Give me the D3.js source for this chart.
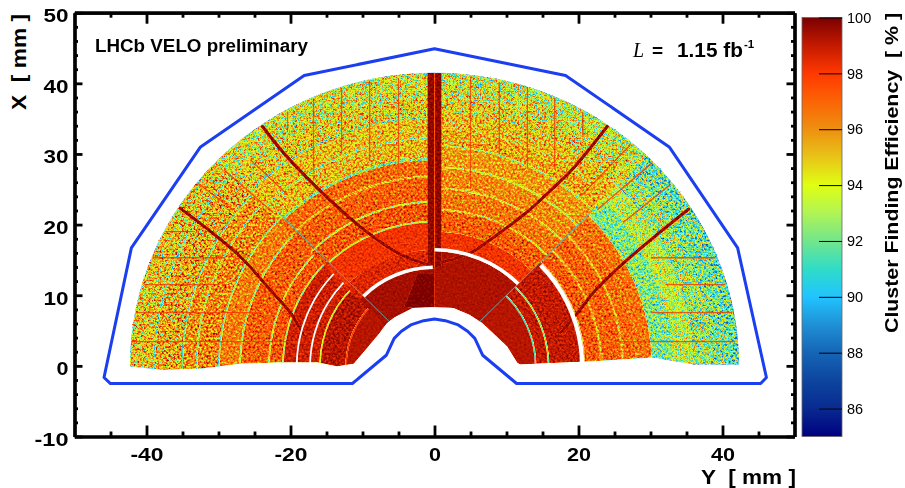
<!DOCTYPE html>
<html><head><meta charset="utf-8">
<script src="https://cdn.jsdelivr.net/npm/d3@7/dist/d3.min.js"></script>
<style>
html,body{margin:0;padding:0;background:#fff;overflow:hidden}
svg{display:block}
text{font-family:"Liberation Sans",Arial,sans-serif;fill:#000;white-space:pre}
</style></head><body>
<svg id="c" width="905" height="488"></svg>
<script>
// ---------- colour scale (one colour per integer %)
const colorValues=[85,86,87,88,89,90,91,92,93,94,95,96,97,98,99,100];
const colorHex=["#000080","#082a90","#0d459f","#1565b5","#1f90d5","#20c4ff","#30dcc8","#72e68c","#b0f455","#e0ff12","#e8c418","#ee9010","#fb6405","#ff3800","#c41a00","#7a0000"];
const colorTicks=[86,88,90,92,94,96,98,100];

// ---------- ring tables, one per sensor sector: radius edges (mm) and mean efficiency (%) estimated by eye
const sectorNames=["A","B","C","D"];
const sectorStartDeg=[-100,-45,0,45];
const sectorEndDeg=[-45,0,45,100];
const sectorCentreX=[0,-1,0,0];
const ringEdgesA=[6,12.15,12.35,15.75,15.95,20.9,21.1,22.85,23.05,26.85,27.05,29.8,30,32.9,33.1,34.9,35.1,38.8,39,44];
const ringValuesA=[99.2,97.8,99.2,93.5,98.8,93.6,97.4,93.6,97.2,92.6,96.4,92.6,96.3,92.6,96.1,92,95.5,92,94.9];
const ringEdgesB=[6,14.7,17.4,21.3,21.5,24.1,24.3,27.7,27.9,30.1,30.4,33.1,33.3,36.1,36.3,39,40,44];
const ringValuesB=[99.4,98.6,98.2,93.6,97.4,93.6,97.1,95.3,96.9,92.2,95.3,92.6,95.1,92.6,94.7,94.3,94];
const ringEdgesC=[6,16.2,19,22,22.2,25,25.2,28,28.2,31,31.2,33.5,36,38,40,44];
const ringValuesC=[99.3,98.2,97.2,94.6,96.6,94.6,96.2,93.6,95.8,93.6,95.6,95.2,94.6,94.1,93.6];
const ringEdgesD=[6,13.9,14.1,15.7,15.9,20.8,23,23.2,26,26.2,28,30.2,33,36,38.5,41,44];
const ringValuesD=[99.2,91.5,99,92,99,97.3,95,97.1,95,96.9,96.7,92.2,93.4,92.8,92,91.6];

// grain strength by radius (visual texture only, not a data value)
const grainEdges=[0,14,20,30,36,60];
const grainGains=[0.08,0.22,0.55,0.85,1.2];

// white dead strips: radius from, radius to, angle from, angle to (deg)
const gapR0=[16.2,20.2,13.7,19.0,17.15];
const gapR1=[16.7,20.8,14.2,19.25,17.4];
const gapA0=[0,46,-45,-100,-100];
const gapA1=[45,100,-1,-47,-47];

// dark stereo lines [Y,X] mm
const darkCurveLeftLow=[[-35.3,22.3],[-30.7,18.7],[-26.5,15],[-23.2,11.2],[-20,7.5],[-18.2,4.4]];
const darkCurveLeftHigh=[[-23.9,33.9],[-21,30.2],[-16.3,25.2],[-10.3,19.7],[-5.1,16],[-0.6,14.2]];
const darkCurveRightHigh=[[24,33.9],[19.3,28],[16.5,25.2],[12.4,21.4],[7.8,17.9],[5,16],[0.8,14.6]];
const darkCurveRightLow=[[35.3,22.2],[31.4,19],[26.3,14.6],[22.1,10.4],[19.9,7.5],[17.5,4.7]];
// thin routing lines [Y0,X0,Y1,X1] mm
const routingLines=[
[-42.2,3.44,-18.6,3.44],[-41.5,7.54,-24.2,7.54],[-40.4,11.5,-29.7,11.5],[-39.2,15.3,-29,15.3],[-37.4,19,-33.2,19],
[25.4,3.44,41.8,3.44],[30,7.54,41.4,7.54],[32.1,11.5,40.4,11.5],[30,15.3,39,15.3],
[-20.4,36,-20.4,33.4],[-16.8,37.7,-16.8,27.5],[-12.9,39.4,-12.9,29.9],[-9,40.4,-9,29.2],[-5,40.8,-5,27.8],
[5,40.9,5,25],[9,40.2,9,29.9],[12.9,39.4,12.9,27.8],[16.7,38,16.7,27.8],[20.6,36,20.6,32.7],
[27.2,31.3,20.3,24],[30.3,28.8,22.6,22.1],[32.8,25.7,26.2,20.3],
[-32.9,25.9,-28,22.1],[-29.3,27.8,-22.4,21.7],[-25.6,29.2,-20.4,24.2]];
const sectorLines=[[-6,6,-21.5,21.5],[6,6,21.5,21.5]];
// vertical central band and inner wedge
const centreBand=[-1,14,1,41.5];
const centreStripe=[-0.05,14,0.08,41.5];
const innerWedge=[[-2.4,13],[0,13],[0,8.3],[-4.3,8.2]];
const darkValue=99.6, routingValue=99.2, sectorLineValue=91, bandValue=99.7, stripeValue=97, wedgeValue=100;

// heat map outline
const bottomEdgeLeft=[[-50,-0.1],[-42.2,-0.1],[-38.1,-0.5],[-32.5,-0.4],[-26.9,0.3],[-21.4,0.47],[-16.3,0.47],[-13.5,-0.1],[-11.2,0.3]];
const innerEdge=[[-9.2,2.7],[-7.6,4.66],[-6.6,6.07],[-5.5,6.9],[-3,8.2],[-0.2,8.3],[2.6,8.2],[4.9,7.2],[6.6,6.07],[8.1,4.66],[10.1,2.7],[11.5,0.4]];
const bottomEdgeRight=[[11.9,0.2],[20.6,0.6],[21.3,0.6],[30.4,1.2],[36,0.2],[42.1,0.2],[50,0.2]];
const rimRadiusY=42.3, rimRadiusX=41.5;

// acceptance outline (blue) [Y,X] mm
const outlineY=[0,18.2,32.6,42.1,46.1,45.3,11.4,6.7,5.6,4.6,3.3,1.5,0,-1.5,-3.3,-4.6,-5.6,-6.7,-11.4,-45,-45.9,-42.1,-32.5,-18.1,0];
const outlineX=[44.9,41.1,31,16.7,-1.65,-2.5,-2.5,1.5,3.9,4.9,5.8,6.4,6.65,6.4,5.8,4.9,3.9,1.5,-2.5,-2.5,-1.65,16.7,31,41.1,44.9];

// axes
const xMajor=[-40,-20,0,20,40], xMinor=[-45,-35,-30,-25,-15,-10,-5,5,10,15,25,30,35,45];
const yMajor=[-10,0,10,20,30,40,50], yMinor=[-8,-6,-4,-2,2,4,6,8,12,14,16,18,22,24,26,28,32,34,36,38,42,44,46,48];

// ---------- scales
const svg=d3.select("#c");
const x=d3.scaleLinear().domain([-50,50]).range([74.5,794.5]);
const y=d3.scaleLinear().domain([-10,50]).range([436.5,12.7]);
const gray=d3.scaleLinear().domain([85,100]).range([0,1]);
const grayFill=v=>{const g=Math.round(gray(v)*255);return `rgb(${g},${g},${g})`;};
const barY=d3.scaleLinear().domain([85,100]).range([436.5,17.5]);
const color=d3.scaleLinear().domain(colorValues).range(colorHex);
const sx=x(1)-x(0), sy=y(0)-y(1);
const rad=Math.PI/180;
const defs=svg.append("defs");

// ---------- grain filters: value-coded gray + noise -> colour table. Decorative texture, not data.
const tbl=c=>colorHex.map(h=>(d3.rgb(h)[c]/255).toFixed(3)).join(" ");
function grainFilter(id,gain){
  const f=defs.append("filter").attr("id",id).attr("filterUnits","userSpaceOnUse")
   .attr("x",0).attr("y",0).attr("width",905).attr("height",488)
   .attr("color-interpolation-filters","sRGB");
  f.append("feTurbulence").attr("type","fractalNoise").attr("baseFrequency",0.45).attr("numOctaves",2).attr("seed",7).attr("result","t");
  f.append("feColorMatrix").attr("in","t").attr("type","matrix")
   .attr("values","1 0 0 0 0 1 0 0 0 0 1 0 0 0 0 0 0 0 0 1").attr("result","n");
  f.append("feComposite").attr("in","SourceGraphic").attr("in2","n").attr("operator","arithmetic")
   .attr("k1",0).attr("k2",1).attr("k3",gain).attr("k4",-gain/2).attr("result","s");
  f.append("feComposite").attr("in","s").attr("in2","SourceAlpha").attr("operator","in").attr("result","c");
  const m=f.append("feComponentTransfer").attr("in","c").attr("result","m");
  m.append("feFuncR").attr("type","table").attr("tableValues",tbl("r"));
  m.append("feFuncG").attr("type","table").attr("tableValues",tbl("g"));
  m.append("feFuncB").attr("type","table").attr("tableValues",tbl("b"));
  f.append("feDisplacementMap").attr("in","m").attr("in2","t").attr("scale",gain*1.6).attr("xChannelSelector","R").attr("yChannelSelector","G").attr("result","d");
  f.append("feGaussianBlur").attr("in","d").attr("stdDeviation",0.4);
}
grainGains.forEach((g,i)=>grainFilter("grain"+i,g));
grainFilter("grainMarks",0.14);

// ---------- clips
const outlineClip=[...bottomEdgeLeft,...innerEdge,...bottomEdgeRight,[60,60],[-60,60]];
defs.append("clipPath").attr("id","poly").append("path")
  .attr("d",d3.line().x(d=>x(d[0])).y(d=>y(d[1]))(outlineClip)+"Z");
defs.append("clipPath").attr("id","rim").append("ellipse")
  .attr("cx",x(0)).attr("cy",y(0)).attr("rx",rimRadiusY*sx).attr("ry",rimRadiusX*sy);

// ---------- heat rings
const ringTables=[[ringEdgesA,ringValuesA],[ringEdgesB,ringValuesB],[ringEdgesC,ringValuesC],[ringEdgesD,ringValuesD]];
const cells=[];
ringTables.forEach(([e,v],s)=>v.forEach((val,i)=>cells.push({s,r0:e[i],r1:e[i+1],v:val})));
const level=c=>d3.bisectRight(grainEdges,(c.r0+c.r1)/2)-1;
const arc=d3.arc();
const heat=svg.append("g").attr("id","heat");
for(let L=grainGains.length-1;L>=0;L--){
  const g=heat.append("g").attr("filter",`url(#grain${L})`)
    .append("g").attr("clip-path","url(#rim)")
    .append("g").attr("clip-path","url(#poly)");
  sectorNames.forEach((n,s)=>{
    g.append("g").attr("transform",`translate(${x(0)},${y(sectorCentreX[s])}) scale(${sx},${sy})`)
     .selectAll("path").data(cells.filter(c=>c.s===s&&level(c)===L).sort((a,b)=>b.r0-a.r0)).join("path")
     .attr("fill",d=>grayFill(d.v))
     .attr("d",d=>arc({innerRadius:d.r0,outerRadius:d.r1+0.04,startAngle:(sectorStartDeg[s]-0.2)*rad,endAngle:(sectorEndDeg[s]+0.2)*rad}));
  });
}

// ---------- overlays in the same value coding
const ov=heat.append("g").attr("filter","url(#grainMarks)")
  .append("g").attr("clip-path","url(#rim)")
  .append("g").attr("clip-path","url(#poly)");
ov.append("path").attr("fill",grayFill(wedgeValue))
  .attr("d",d3.line().x(d=>x(d[0])).y(d=>y(d[1]))(innerWedge)+"Z");
[[centreBand,bandValue],[centreStripe,stripeValue]].forEach(([b,v])=>{
  ov.append("rect").attr("x",x(b[0])).attr("width",x(b[2])-x(b[0]))
    .attr("y",y(b[3])).attr("height",y(b[1])-y(b[3])).attr("fill",grayFill(v));
});
ov.selectAll("line.rt").data(routingLines).join("line").attr("class","rt")
  .attr("x1",d=>x(d[0])).attr("y1",d=>y(d[1])).attr("x2",d=>x(d[2])).attr("y2",d=>y(d[3]))
  .attr("stroke",grayFill(routingValue)).attr("stroke-width",1.8).attr("stroke-opacity",0.85);
ov.selectAll("line.sc").data(sectorLines).join("line").attr("class","sc")
  .attr("x1",d=>x(d[0])).attr("y1",d=>y(d[1])).attr("x2",d=>x(d[2])).attr("y2",d=>y(d[3]))
  .attr("stroke",grayFill(sectorLineValue)).attr("stroke-width",1.1).attr("stroke-opacity",0.8);
const cv=d3.line().x(d=>x(d[0])).y(d=>y(d[1])).curve(d3.curveCatmullRom);
[darkCurveLeftLow,darkCurveLeftHigh,darkCurveRightHigh,darkCurveRightLow].forEach(c=>{
  ov.append("path").attr("d",cv(c)).attr("fill","none").attr("stroke",grayFill(darkValue)).attr("stroke-width",3.6).attr("stroke-linecap","round");
});

// ---------- white dead strips
const gaps=heat.append("g").attr("transform",`translate(${x(0)},${y(0)}) scale(${sx},${sy})`);
gapR0.forEach((r,i)=>{
  gaps.append("path").attr("fill","#fff")
   .attr("d",arc({innerRadius:r,outerRadius:gapR1[i],startAngle:gapA0[i]*rad,endAngle:gapA1[i]*rad}));
});

// ---------- blue outline
svg.append("path").attr("fill","none").attr("stroke","#1a3ef0").attr("stroke-width",3).attr("stroke-linejoin","round")
  .attr("d",d3.line().x((d,i)=>x(outlineY[i])).y((d,i)=>y(outlineX[i]))(outlineY)+"Z");

// ---------- frame and ticks
function ax(gen,tx,ty,vals,size,labels){
  const g=svg.append("g").attr("transform",`translate(${tx},${ty})`)
   .call(gen.tickValues(vals).tickSizeInner(size).tickSizeOuter(0).tickPadding(9)
     .tickFormat(labels?(d=>String(d)):()=>""));
  g.selectAll(".domain").attr("stroke","#000").attr("stroke-width",3.2);
  g.selectAll(".tick line").attr("stroke","#000").attr("stroke-width",2.8);
  return g;
}
const bx=ax(d3.axisBottom(x),0,y(-10),xMajor,-11,true);
ax(d3.axisBottom(x),0,y(-10),xMinor,-5,false);
const lx=ax(d3.axisLeft(y),x(-50),0,yMajor,-8,true);
ax(d3.axisLeft(y),x(-50),0,yMinor,-3.5,false);
ax(d3.axisTop(x),0,y(50),xMajor,-11,false);
ax(d3.axisTop(x),0,y(50),xMinor,-5,false);
ax(d3.axisRight(y),x(50),0,yMajor,-8,false);
ax(d3.axisRight(y),x(50),0,yMinor,-3.5,false);
bx.selectAll("text").attr("font-size",19).attr("font-weight","bold").attr("y",24.5).attr("dy",0)
  .style("font-family","'Liberation Sans'").each(function(d){d3.select(this).attr("textLength",d<0?33:(d===0?12:24)).attr("lengthAdjust","spacingAndGlyphs");});
lx.selectAll("text").attr("font-size",19).attr("font-weight","bold").attr("x",-6).attr("dy","0.47em")
  .style("font-family","'Liberation Sans'").each(function(d){d3.select(this).attr("textLength",d<0?34:(d===0?12:25)).attr("lengthAdjust","spacingAndGlyphs");});

// ---------- colour bar
const grad=defs.append("linearGradient").attr("id","bar").attr("x1",0).attr("x2",0).attr("y1",1).attr("y2",0);
grad.selectAll("stop").data(colorValues).join("stop")
  .attr("offset",d=>(d-85)/15).attr("stop-color",d=>color(d));
svg.append("rect").attr("x",802).attr("y",barY(100)).attr("width",40).attr("height",barY(85)-barY(100))
  .attr("fill","url(#bar)").attr("stroke","#666").attr("stroke-width",0.8);
const bar=svg.append("g").attr("transform","translate(842,0)")
  .call(d3.axisRight(barY).tickValues(colorTicks).tickSizeInner(-23).tickSizeOuter(0).tickPadding(5).tickFormat(d=>String(d)));
bar.select(".domain").attr("stroke","none");
bar.selectAll(".tick line").attr("stroke","#000").attr("stroke-width",1);
bar.selectAll("text").attr("font-size",14.5).style("font-family","'Liberation Sans'").attr("fill","#111");

// ---------- texts
const T=(s,a)=>{const t=svg.append("text").text(s);Object.entries(a).forEach(([k,v])=>t.attr(k,v));return t;};
T("LHCb VELO preliminary",{x:95,y:52,"font-size":17.5,"font-weight":"bold",textLength:213,lengthAdjust:"spacingAndGlyphs"});
T("L",{x:633,y:57,"font-size":20,"font-style":"italic"}).style("font-family","'Liberation Serif'").attr("fill","#222");
T("=",{x:652,y:57,"font-size":19,"font-weight":"bold"});
T("1.15 fb",{x:677,y:57,"font-size":19.5,"font-weight":"bold",textLength:66,lengthAdjust:"spacingAndGlyphs"});
T("-1",{x:744,y:48,"font-size":11.5,"font-weight":"bold"});
T("Y  [ mm ]",{x:701,y:484,"font-size":20.5,"font-weight":"bold",textLength:95,lengthAdjust:"spacingAndGlyphs"});
T("X  [ mm ]",{x:0,y:0,"font-size":21,"font-weight":"bold",textLength:96,lengthAdjust:"spacingAndGlyphs",transform:"translate(26,110) rotate(-90)"});
T("Cluster Finding Efficiency  [ % ]",{x:0,y:0,"font-size":18.5,"font-weight":"bold",textLength:320,lengthAdjust:"spacingAndGlyphs",transform:"translate(898,333) rotate(-90)"});
</script>
</body></html>
